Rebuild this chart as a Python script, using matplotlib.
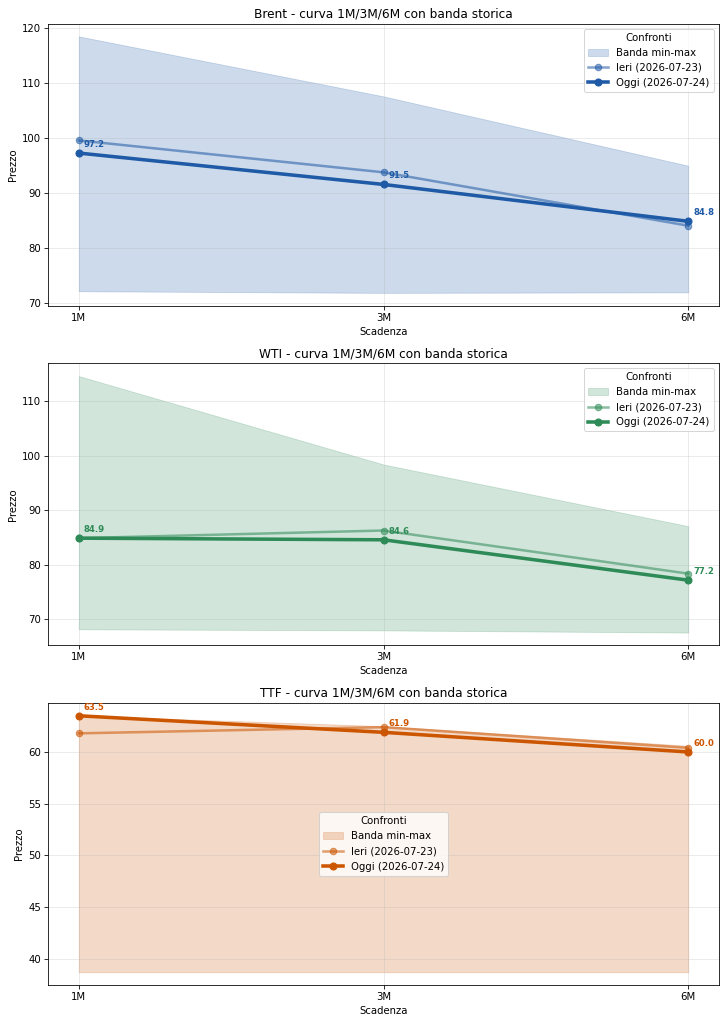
import matplotlib
matplotlib.use("Agg")
import matplotlib.pyplot as plt
import numpy as np

# scadenze comuni
tenors = ["1M", "3M", "6M"]
label_ieri = "Ieri (2026-07-23)"
label_oggi = "Oggi (2026-07-24)"

# Brent
brent_min = [72.1, 71.8, 71.9]
brent_max = [118.4, 107.5, 94.9]
brent_ieri = [99.5, 93.7, 84.0]
brent_oggi = [97.2, 91.5, 84.8]

# WTI
wti_min = [68.2, 68.0, 67.6]
wti_max = [114.6, 98.4, 87.1]
wti_ieri = [84.9, 86.3, 78.4]
wti_oggi = [84.9, 84.6, 77.2]

# TTF
ttf_min = [38.7, 38.7, 38.7]
ttf_max = [63.5, 62.5, 60.6]
ttf_ieri = [61.8, 62.4, 60.4]
ttf_oggi = [63.5, 61.9, 60.0]

panels = [
    ("Brent", brent_min, brent_max, brent_ieri, brent_oggi, "#1f5aa6", "upper right"),
    ("WTI", wti_min, wti_max, wti_ieri, wti_oggi, "#2e8b57", "upper right"),
    ("TTF", ttf_min, ttf_max, ttf_ieri, ttf_oggi, "#cc5500", "center"),
]

DPI = 72.6
fig, axes = plt.subplots(3, 1, figsize=(726 / DPI, 1024 / DPI), dpi=DPI)
fig.subplots_adjust(left=0.0665, right=0.99, top=0.977, bottom=0.038, hspace=0.204)

x = np.arange(len(tenors))

for ax, (name, lo, hi, ieri, oggi, col, loc) in zip(axes, panels):
    ax.fill_between(x, lo, hi, color=col, alpha=0.22, linewidth=0.8, label="Banda min-max")
    ax.plot(x, ieri, marker="o", color=col, alpha=0.55, lw=2.5, ms=6.5, label=label_ieri)
    ax.plot(x, oggi, marker="o", color=col, lw=3.5, ms=7, label=label_oggi)
    # etichette valori di oggi
    for xi, v in zip(x, oggi):
        ax.annotate(f"{v:.1f}", (xi, v), xytext=(5, 4), textcoords="offset points",
                    ha="left", va="bottom", fontsize=8.5, fontweight="bold", color=col)
    ax.set_xticks(x)
    ax.set_xticklabels(tenors)
    ax.set_title(f"{name} - curva 1M/3M/6M con banda storica")
    ax.set_xlabel("Scadenza")
    ax.set_ylabel("Prezzo")
    ax.grid(True, alpha=0.3)
    ax.legend(title="Confronti", loc=loc)

fig.savefig("out.png", dpi=DPI)
